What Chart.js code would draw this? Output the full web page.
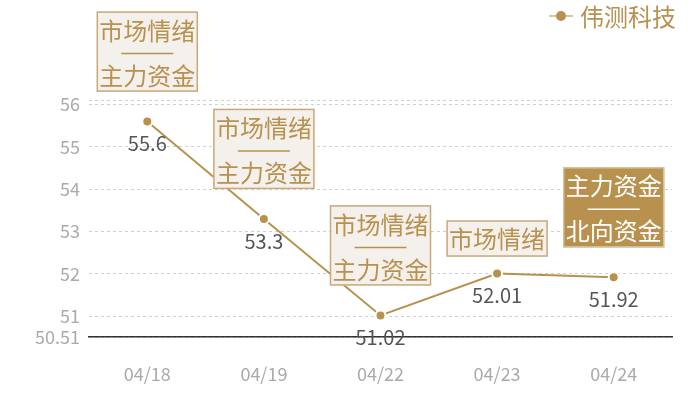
<!DOCTYPE html>
<html>
<head>
<meta charset="utf-8">
<script src="https://cdn.jsdelivr.net/npm/chart.js@4/dist/chart.umd.min.js"></script>
<style>
html,body{margin:0;padding:0;background:#fff;}
#wrap{width:700px;height:400px;position:relative;}
</style>
</head>
<body>
<div id="wrap"><canvas id="c" width="700" height="400"></canvas></div>
<script>
const categories = ['04/18', '04/19', '04/22', '04/23', '04/24'];
const values = [55.6, 53.3, 51.02, 52.01, 51.92];
const tagTop = ['市场情绪', '市场情绪', '市场情绪', '市场情绪', '主力资金'];
const tagBottom = ['主力资金', '主力资金', '主力资金', '', '北向资金'];
const tagDark = [false, false, false, false, true];
const yTicks = [50.51, 51, 52, 53, 54, 55, 56];
const yMin = 50.51;
const yMax = 56.11;
const seriesName = '伟测科技';

const GOLD = '#b8914f';
const FONT = '"Noto Sans CJK SC", "Noto Sans", sans-serif';

const overlay = {
  id: 'overlay',
  afterDatasetsDraw(chart) {
    const ctx = chart.ctx;
    const meta = chart.getDatasetMeta(0);
    ctx.save();
    // data labels
    ctx.font = '20px ' + FONT;
    ctx.fillStyle = '#555555';
    ctx.textAlign = 'center';
    ctx.textBaseline = 'middle';
    meta.data.forEach((pt, i) => {
      ctx.fillText(String(values[i]), pt.x, pt.y + 22);
    });
    // annotation boxes
    meta.data.forEach((pt, i) => {
      const two = tagBottom[i] !== '';
      const w = 101;
      const h = two ? 80 : 36;
      const gap = two ? 30 : 17;
      const left = pt.x - w / 2;
      const top = pt.y - gap - h;
      const dark = tagDark[i];
      ctx.fillStyle = dark ? GOLD : '#f4f1ec';
      ctx.fillRect(left, top, w, h);
      ctx.strokeStyle = dark ? '#d6c19d' : '#c9a97a';
      ctx.lineWidth = 1.5;
      ctx.strokeRect(left + 0.5, top + 0.5, w - 1, h - 1);
      const tc = dark ? '#ffffff' : GOLD;
      ctx.fillStyle = tc;
      ctx.font = '24px ' + FONT;
      ctx.textAlign = 'center';
      ctx.textBaseline = 'middle';
      if (two) {
        ctx.fillText(tagTop[i], pt.x, top + 19);
        ctx.strokeStyle = tc;
        ctx.lineWidth = 1.5;
        ctx.beginPath();
        ctx.moveTo(pt.x - 26, top + 42);
        ctx.lineTo(pt.x + 26, top + 42);
        ctx.stroke();
        ctx.fillText(tagBottom[i], pt.x, top + 64);
      } else {
        ctx.fillText(tagTop[i], pt.x, top + 18);
      }
    });
    // legend
    ctx.strokeStyle = '#dcc6a2';
    ctx.lineWidth = 2;
    ctx.beginPath();
    ctx.moveTo(549, 16);
    ctx.lineTo(573, 16);
    ctx.stroke();
    ctx.fillStyle = GOLD;
    ctx.beginPath();
    ctx.arc(561, 16, 5, 0, Math.PI * 2);
    ctx.fill();
    ctx.font = '24px ' + FONT;
    ctx.textAlign = 'left';
    ctx.textBaseline = 'middle';
    ctx.fillText(seriesName, 580, 17);
    ctx.restore();
  }
};

new Chart(document.getElementById('c'), {
  type: 'line',
  data: {
    labels: categories,
    datasets: [{
      label: seriesName,
      data: values,
      borderColor: GOLD,
      borderWidth: 2,
      pointRadius: 5,
      pointBackgroundColor: GOLD,
      pointBorderColor: '#ffffff',
      pointBorderWidth: 2,
      tension: 0,
      fill: false
    }]
  },
  options: {
    responsive: false,
    animation: false,
    devicePixelRatio: 1,
    layout: { padding: { top: 100, right: 28, left: 0, bottom: 0 } },
    plugins: { legend: { display: false }, tooltip: { enabled: false } },
    scales: {
      x: {
        type: 'category',
        offset: true,
        grid: { display: false, drawTicks: false },
        border: { display: true, color: '#333333', width: 1.5 },
        ticks: { color: '#aaaaaa', font: { size: 18, family: FONT }, padding: 26 },
        afterFit(s) { s.height = 63; }
      },
      y: {
        min: yMin,
        max: yMax,
        afterBuildTicks(s) {
          s.ticks = yTicks.concat([yMax]).map(v => ({ value: v }));
        },
        grid: { color: '#d0d0d0', lineWidth: 1, drawTicks: false },
        border: { display: false, dash: [3, 3] },
        ticks: {
          color: '#aaaaaa',
          font: { size: 18, family: FONT },
          padding: 9,
          autoSkip: false,
          callback(v) { return v === yMax ? '' : String(v); }
        },
        afterFit(s) { s.width = 89; }
      }
    }
  },
  plugins: [overlay]
});
</script>
</body>
</html>
